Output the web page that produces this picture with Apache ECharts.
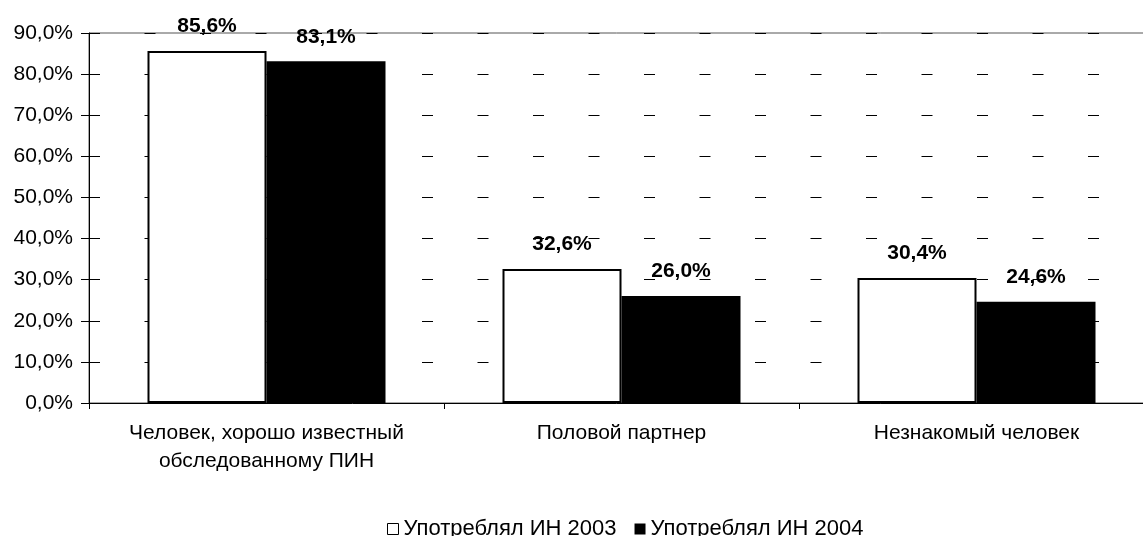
<!DOCTYPE html>
<html><head><meta charset="utf-8">
<script src="https://cdn.jsdelivr.net/npm/echarts@6/dist/echarts.min.js"></script>
<style>html,body{margin:0;padding:0;background:#fff}#c{width:1143px;height:536px}</style>
</head><body><div id="c"></div>
<script>
const categories = ['Человек, хорошо известный\nобследованному ПИН', 'Половой партнер', 'Незнакомый человек'];
const seriesNames = ['Употреблял ИН 2003', 'Употреблял ИН 2004'];
const values2003 = [85.6, 32.6, 30.4];
const values2004 = [83.1, 26.0, 24.6];
const yTicks = [0, 10, 20, 30, 40, 50, 60, 70, 80, 90];

const FONT = 'Liberation Sans, Arial, sans-serif';
const fmt = v => v.toFixed(1).replace('.', ',') + '%';
const chart = echarts.init(document.getElementById('c'), null, {renderer: 'canvas'});
chart.setOption({
  animation: false,
  backgroundColor: '#fff',
  textStyle: {fontFamily: FONT},
  grid: {left: 89, width: 1065, top: 33, height: 370, outerBoundsMode: 'none', containLabel: false, show: true, borderColor: '#555', borderWidth: 1, backgroundColor: 'transparent'},
  legend: {
    top: 513, left: 382, itemWidth: 11, itemHeight: 11, itemGap: 18,
    textStyle: {fontSize: 22, color: '#000', fontFamily: FONT},
    data: [
      {name: seriesNames[0], icon: 'rect', itemStyle: {color: '#fff', borderColor: '#000', borderWidth: 1}},
      {name: seriesNames[1], icon: 'rect', itemStyle: {color: '#000'}}
    ]
  },
  xAxis: {
    type: 'category', data: categories,
    axisLine: {lineStyle: {color: '#000', width: 1}},
    axisTick: {show: true, length: 6, alignWithLabel: false, lineStyle: {color: '#000'}},
    axisLabel: {interval: 0, fontSize: 21, color: '#000', margin: 16, lineHeight: 28, fontFamily: FONT},
    splitLine: {show: false}
  },
  yAxis: {
    type: 'value', min: 0, max: 90, interval: 10,
    axisLine: {show: true, lineStyle: {color: '#000', width: 1}},
    axisTick: {show: true, length: 8, lineStyle: {color: '#000'}},
    axisLabel: {fontSize: 21, color: '#000', margin: 16, fontFamily: FONT, formatter: v => yTicks.includes(v) ? fmt(v) : ''},
    splitLine: {show: true, lineStyle: {color: '#000', width: 1, type: [11, 44.5]}}
  },
  series: [
    {name: seriesNames[0], type: 'bar', data: values2003, barWidth: 119, barGap: '0%',
     itemStyle: {color: '#fff', borderColor: '#000', borderWidth: 2},
     label: {show: true, position: 'top', distance: 14, fontSize: 21, fontWeight: 'bold', color: '#000', fontFamily: FONT, formatter: p => fmt(p.value)}},
    {name: seriesNames[1], type: 'bar', data: values2004, barWidth: 119, barGap: '0%',
     itemStyle: {color: '#000', borderColor: '#000', borderWidth: 0},
     label: {show: true, position: 'top', distance: 14, fontSize: 21, fontWeight: 'bold', color: '#000', fontFamily: FONT, formatter: p => fmt(p.value)}}
  ]
});
</script></body></html>
